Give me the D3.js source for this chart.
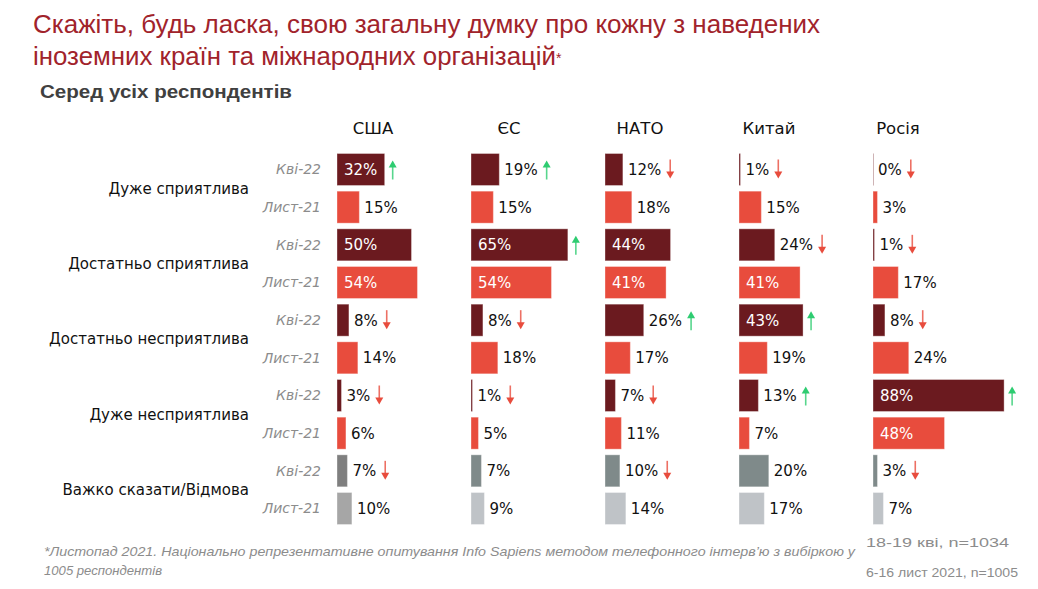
<!DOCTYPE html>
<html>
<head>
<meta charset="utf-8">
<script src="https://cdn.jsdelivr.net/npm/d3@7/dist/d3.min.js"></script>
<style>
  html, body { margin: 0; padding: 0; background: #ffffff; }
  svg { display: block; }
</style>
</head>
<body>
<svg id="chart" width="1038" height="589"></svg>
<script>
// ---------- DATA ----------
const categories = ["Дуже сприятлива", "Достатньо сприятлива", "Достатньо несприятлива", "Дуже несприятлива", "Важко сказати/Відмова"];
const periods = ["Кві-22", "Лист-21"];
const countries = ["США", "ЄС", "НАТО", "Китай", "Росія"];

const usaApr22    = [32, 50, 8, 3, 7];
const usaNov21    = [15, 54, 14, 6, 10];
const euApr22     = [19, 65, 8, 1, 7];
const euNov21     = [15, 54, 18, 5, 9];
const natoApr22   = [12, 44, 26, 7, 10];
const natoNov21   = [18, 41, 17, 11, 14];
const chinaApr22  = [1, 24, 43, 13, 20];
const chinaNov21  = [15, 41, 19, 7, 17];
const russiaApr22 = [0, 1, 8, 88, 3];
const russiaNov21 = [3, 17, 24, 48, 7];

const usaChange    = ["up", "", "down", "down", "down"];
const euChange     = ["up", "up", "down", "down", ""];
const natoChange   = ["down", "", "up", "down", "down"];
const chinaChange  = ["down", "down", "up", "up", ""];
const russiaChange = ["down", "down", "down", "up", "down"];

const apr22Values = [usaApr22, euApr22, natoApr22, chinaApr22, russiaApr22];
const nov21Values = [usaNov21, euNov21, natoNov21, chinaNov21, russiaNov21];
const changes = [usaChange, euChange, natoChange, chinaChange, russiaChange];

const titleLine1 = "Скажіть, будь ласка, свою загальну думку про кожну з наведених";
const titleLine2 = "іноземних країн та міжнародних організацій";
const subtitle = "Серед усіх респондентів";
const footLine1 = "*Листопад 2021. Національно репрезентативне опитування Info Sapiens методом телефонного інтерв’ю з вибіркою у";
const footLine2 = "1005 респондентів";
const sample1 = "18-19 кві, n=1034";
const sample2 = "6-16 лист 2021, n=1005";

// ---------- STYLE ----------
const C = {
  darkRed: "#6B1A1F",
  lightRed: "#E84C3D",
  title: "#A1232B",
  sub: "#404040",
  period: "#8C8C8C",
  up: "#2ECC71",
  down: "#E84C3D"
};
const grayApr = ["#7F7F7F", "#7F8A8A", "#7F8A8A", "#7F8A8A", "#7F8A8A"];
const grayNov = ["#A6A6A6", "#BFC3C7", "#BFC3C7", "#BFC3C7", "#BFC3C7"];
const headerShift = [36, 38, 35, 30, 25];

const svg = d3.select("#chart");
const FONT = "'DejaVu Sans', Verdana, sans-serif";

// ---------- SCALES ----------
const colX = d3.scalePoint().domain(countries).range([337, 873]);
const xLen = d3.scaleLinear().domain([0, 100]).range([0, 149]);
const rowKeys = d3.range(categories.length * 2);
const rowY = d3.scalePoint().domain(rowKeys).range([169.5, 508.5]);
const barH = 32;

// ---------- TITLE ----------
svg.append("text").attr("x", 33).attr("y", 33)
  .attr("font-family", "'Liberation Sans', Arial, sans-serif").attr("font-size", 25)
  .attr("fill", C.title).attr("textLength", 787).attr("lengthAdjust", "spacingAndGlyphs")
  .text(titleLine1);
const t2 = svg.append("text").attr("x", 33).attr("y", 65)
  .attr("font-family", "'Liberation Sans', Arial, sans-serif").attr("font-size", 25)
  .attr("fill", C.title);
t2.append("tspan").text(titleLine2).attr("textLength", 523).attr("lengthAdjust", "spacingAndGlyphs");
t2.append("tspan").attr("font-size", 14).attr("dy", -2).text("*");

svg.append("text").attr("x", 40).attr("y", 98)
  .attr("font-family", "'Liberation Sans', Arial, sans-serif").attr("font-size", 19)
  .attr("font-weight", "bold").attr("fill", C.sub)
  .attr("textLength", 252).attr("lengthAdjust", "spacingAndGlyphs")
  .text(subtitle);

// ---------- HEADERS ----------
svg.selectAll("text.hdr").data(countries).join("text").attr("class", "hdr")
  .attr("x", (d, i) => colX(d) + headerShift[i]).attr("y", 134)
  .attr("text-anchor", "middle")
  .attr("font-family", FONT).attr("font-size", 16.5).attr("fill", "#111")
  .text(d => d);

// ---------- CATEGORY LABELS ----------
svg.selectAll("text.cat").data(categories).join("text").attr("class", "cat")
  .attr("x", 249)
  .attr("y", (d, i) => (rowY(2 * i) + rowY(2 * i + 1)) / 2)
  .attr("dy", "0.35em").attr("text-anchor", "end")
  .attr("font-family", FONT).attr("font-size", 15).attr("fill", "#111")
  .text(d => d);

// ---------- PERIOD LABELS ----------
svg.selectAll("text.per").data(rowKeys).join("text").attr("class", "per")
  .attr("x", 321).attr("y", d => rowY(d)).attr("dy", "0.35em")
  .attr("text-anchor", "end")
  .attr("font-family", FONT).attr("font-size", 14).attr("font-style", "italic")
  .attr("fill", C.period)
  .text(d => periods[d % 2]);

// ---------- BARS ----------
const bars = [];
countries.forEach((c, ci) => {
  categories.forEach((cat, ki) => {
    periods.forEach((p, pi) => {
      const v = pi === 0 ? apr22Values[ci][ki] : nov21Values[ci][ki];
      let fill;
      if (ki === categories.length - 1) fill = pi === 0 ? grayApr[ci] : grayNov[ci];
      else if (ki < 2 || ki < 4) fill = pi === 0 ? C.darkRed : C.lightRed;
      bars.push({
        country: c, ci, ki, pi, v, fill,
        row: ki * 2 + pi,
        change: pi === 0 ? changes[ci][ki] : ""
      });
    });
  });
});

const g = svg.append("g");
g.selectAll("rect.bar").data(bars).join("rect").attr("class", "bar")
  .attr("x", d => colX(d.country))
  .attr("y", d => rowY(d.row) - barH / 2)
  .attr("width", d => Math.max(1, xLen(d.v)))
  .attr("height", barH)
  .attr("fill", d => d.fill)
  .attr("opacity", d => d.v === 0 ? 0.5 : 1)
  .attr("stroke", "#ffffff").attr("stroke-opacity", 0.35).attr("stroke-width", 1);

// ---------- VALUE LABELS + ARROWS ----------
bars.forEach(d => {
  const x0 = colX(d.country);
  const xe = x0 + xLen(d.v);
  const cy = rowY(d.row);
  const inside = d.v >= 30;
  const t = g.append("text")
    .attr("x", inside ? x0 + 7 : xe + 5)
    .attr("y", cy).attr("dy", "0.36em")
    .attr("font-family", FONT).attr("font-size", 15)
    .attr("fill", inside ? "#ffffff" : "#111")
    .text(d.v + "%");
  if (d.change) {
    const textEnd = inside ? xe : (xe + 5 + t.node().getComputedTextLength());
    const ax = textEnd + (inside ? 8 : 9);
    const col = d.change === "up" ? C.up : C.down;
    const s = d.change === "up" ? -1 : 1;
    g.append("line")
      .attr("x1", ax).attr("x2", ax)
      .attr("y1", cy - s * 10).attr("y2", cy + s * 3)
      .attr("stroke", col).attr("stroke-width", 1.6).attr("stroke-opacity", 0.8);
    g.append("path")
      .attr("d", `M${ax - 4},${cy + s * 2} L${ax + 4},${cy + s * 2} L${ax},${cy + s * 9} Z`)
      .attr("fill", col);
  }
});

// ---------- FOOTNOTES ----------
svg.append("text").attr("x", 44).attr("y", 556)
  .attr("font-family", "'Liberation Sans Narrow', 'Liberation Sans', Arial, sans-serif")
  .attr("font-size", 13.5).attr("font-style", "italic").attr("fill", "#8C8C8C")
  .attr("textLength", 811).attr("lengthAdjust", "spacingAndGlyphs")
  .text(footLine1);
svg.append("text").attr("x", 44).attr("y", 575)
  .attr("font-family", "'Liberation Sans Narrow', 'Liberation Sans', Arial, sans-serif")
  .attr("font-size", 13.5).attr("font-style", "italic").attr("fill", "#8C8C8C")
  .attr("textLength", 118).attr("lengthAdjust", "spacingAndGlyphs")
  .text(footLine2);
svg.append("text").attr("x", 866).attr("y", 547)
  .attr("font-family", "'Liberation Sans Narrow', 'Liberation Sans', Arial, sans-serif")
  .attr("font-size", 13).attr("fill", "#8C8C8C")
  .attr("textLength", 143).attr("lengthAdjust", "spacingAndGlyphs")
  .text(sample1);
svg.append("text").attr("x", 866).attr("y", 577)
  .attr("font-family", "'Liberation Sans Narrow', 'Liberation Sans', Arial, sans-serif")
  .attr("font-size", 13).attr("fill", "#8C8C8C")
  .attr("textLength", 152).attr("lengthAdjust", "spacingAndGlyphs")
  .text(sample2);
</script>
</body>
</html>
